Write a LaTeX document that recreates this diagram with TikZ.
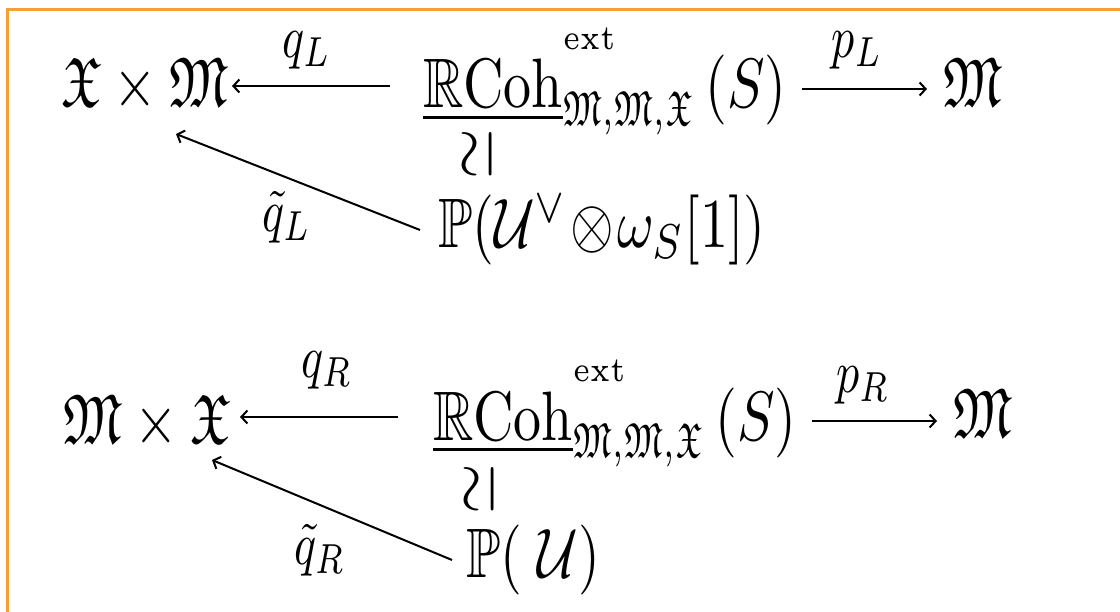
\documentclass[tikz,border=0pt]{standalone}
\usepackage{amssymb}
\usepackage{graphicx}
\usetikzlibrary{arrows.meta,calc}
\definecolor{frameor}{HTML}{F5A033}
\newcommand{\rcoh}{\underline{\mathbb{R}\mathrm{Coh}}^{\raisebox{0.9ex}{$\scriptscriptstyle\mathrm{ext}$}}_{\scalebox{0.85}[1]{$\scriptstyle\mathfrak{M},\mathfrak{M},\mathfrak{X}$}}\,(S)}
\begin{document}
\begin{tikzpicture}[x=1pt,y=-1pt,
  obj/.style={inner sep=0pt, xscale=5.6, yscale=7, anchor=base west},
  lab/.style={inner sep=0pt, xscale=4.6, yscale=6},
  iso/.style={inner sep=0pt, xscale=7, yscale=6.5},
  arr/.style={line width=2pt, -{Straight Barb[length=6pt,width=13pt]}},
]
\useasboundingbox (0,0) rectangle (1120,612);
\fill[white] (0,0) rectangle (1120,612);
\draw[frameor, line width=3pt] (7,612) -- (7,10) -- (1120,10);
% row 1
\node[obj] (A1) at (60,107) {$\mathfrak{X}\times\mathfrak{M}$};
\node[obj] (B1) at (422,108) {$\rcoh$};
\node[obj] (C1) at (942,107) {$\mathfrak{M}$};
\node[obj] (D1) at (437,248) {$\mathbb{P}(\mathcal{U}^{\vee}\!\otimes\!\omega_S[1])$};
\node[iso] (E1) at (478,154) {\rotatebox{90}{$\simeq$}};
\draw[arr] ($(B1.base west)+(-32,-22)$) -- ($(A1.base west)+(172,-21)$);
\draw[arr] ($(C1.base west)+(-140,-18)$) -- ($(C1.base west)+(-15,-18)$);
\draw[arr] ($(D1.base west)+(-17,-18)$) -- ($(A1.base west)+(116,27)$);
\node[lab] (qL) at (307,50) {$q_L$};
\node[lab] (pL) at (857,50) {$p_L$};
\node[lab] (tqL) at (287,217) {$\tilde q_L$};
% row 2
\node[obj] (A2) at (62,443) {$\mathfrak{M}\times\mathfrak{X}$};
\node[obj] (B2) at (432,440) {$\rcoh$};
\node[obj] (C2) at (952,438) {$\mathfrak{M}$};
\node[obj] (D2) at (465,577) {$\mathbb{P}(\;\mathcal{U})$};
\node[iso] (E2) at (480,489) {\rotatebox{90}{$\simeq$}};
\draw[arr] ($(B2.base west)+(-34,-23)$) -- ($(A2.base west)+(178,-26)$);
\draw[arr] ($(C2.base west)+(-140,-17)$) -- ($(C2.base west)+(-15,-17)$);
\draw[arr] ($(D2.base west)+(-13,-17)$) -- ($(A2.base west)+(150,17)$);
\node[lab] (qR) at (327,370) {$q_R$};
\node[lab] (pR) at (863,385) {$p_R$};
\node[lab] (tqR) at (320,550) {$\tilde q_R$};
\end{tikzpicture}
\end{document}
